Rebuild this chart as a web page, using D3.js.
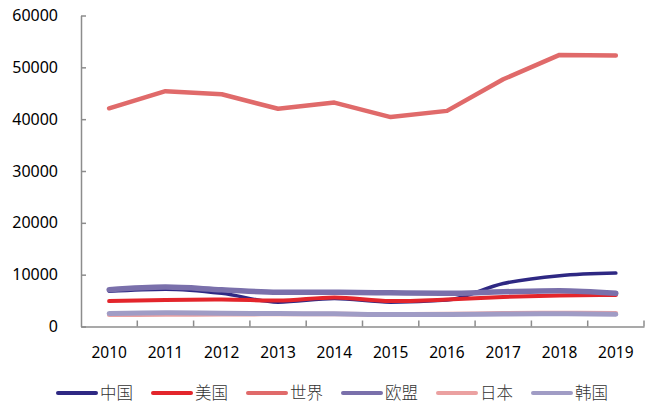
<!DOCTYPE html>
<html>
<head>
<meta charset="utf-8">
<script src="https://cdn.jsdelivr.net/npm/d3@7"></script>
<style>
  body { margin: 0; background: #fff; }
  svg { display: block; }
</style>
</head>
<body>
<div id="chart"></div>
<script>
// values
const years = ['2010', '2011', '2012', '2013', '2014', '2015', '2016', '2017', '2018', '2019'];
const china = [6800, 7200, 6400, 4700, 5400, 4700, 5100, 8300, 9800, 10300];
const usa = [4900, 5100, 5200, 5000, 5600, 4900, 5200, 5700, 6000, 6100];
const world = [42100, 45400, 44800, 42000, 43200, 40400, 41600, 47700, 52400, 52300];
const eu = [7100, 7600, 7100, 6600, 6600, 6500, 6400, 6700, 6900, 6400];
const japan = [2250, 2300, 2350, 2400, 2400, 2350, 2400, 2550, 2600, 2550];
const korea = [2500, 2650, 2550, 2500, 2450, 2300, 2300, 2400, 2450, 2350];
const yTicks = [0, 10000, 20000, 30000, 40000, 50000, 60000];

const series = [
  { name: '中国', values: china, color: '#2e2883', width: 3.5, smooth: true },
  { name: '美国', values: usa, color: '#e3252b', width: 4, smooth: true },
  { name: '世界', values: world, color: '#e06a6a', width: 4.5, smooth: false },
  { name: '欧盟', values: eu, color: '#7a70ab', width: 5.5, smooth: true },
  { name: '日本', values: japan, color: '#eba1a1', width: 4.5, smooth: true },
  { name: '韩国', values: korea, color: '#a09cc5', width: 5, smooth: true },
];

const W = 651, H = 403;
const plotLeft = 81, plotRight = 644, plotTop = 15.5, plotBottom = 326.5;

const svg = d3.select('#chart').append('svg')
  .attr('width', W)
  .attr('height', H);

const x = d3.scaleBand().domain(years).range([plotLeft, plotRight]).padding(0);
const y = d3.scaleLinear().domain([0, 60000]).range([plotBottom, plotTop]);

// y axis
const yAxis = svg.append('g')
  .attr('transform', `translate(${plotLeft},0)`)
  .call(d3.axisLeft(y).tickValues(yTicks).tickFormat(d3.format('d'))
    .tickSizeInner(-5).tickSizeOuter(0).tickPadding(23));
yAxis.select('.domain').attr('stroke', '#8c8c8c').attr('stroke-width', 1.5);
yAxis.selectAll('.tick line').attr('stroke', '#8c8c8c').attr('stroke-width', 1.5);
yAxis.selectAll('text')
  .attr('font-family', '"Noto Sans", sans-serif')
  .attr('font-size', 16)
  .attr('fill', '#000');

// x axis, labels centred in each band
const xAxis = svg.append('g')
  .attr('transform', `translate(0,${plotBottom})`)
  .call(d3.axisBottom(x).tickSize(0).tickPadding(20));
xAxis.select('.domain').attr('stroke', '#8c8c8c').attr('stroke-width', 1.5);
xAxis.selectAll('text')
  .attr('font-family', '"Noto Sans", sans-serif')
  .attr('font-size', 15.5)
  .attr('fill', '#000');

// tick marks on band boundaries, pointing inward
svg.append('g')
  .selectAll('line')
  .data(years)
  .join('line')
  .attr('x1', d => x(d) + x.bandwidth())
  .attr('x2', d => x(d) + x.bandwidth())
  .attr('y1', plotBottom)
  .attr('y2', plotBottom - 6)
  .attr('stroke', '#8c8c8c')
  .attr('stroke-width', 1.5);

const smoothLine = d3.line()
  .x((d, i) => x(years[i]) + x.bandwidth() / 2)
  .y(d => y(d))
  .curve(d3.curveMonotoneX);
const straightLine = d3.line()
  .x((d, i) => x(years[i]) + x.bandwidth() / 2)
  .y(d => y(d));

svg.append('g')
  .selectAll('path')
  .data(series)
  .join('path')
  .attr('d', d => (d.smooth ? smoothLine : straightLine)(d.values))
  .attr('fill', 'none')
  .attr('stroke', d => d.color)
  .attr('stroke-width', d => d.width)
  .attr('stroke-linecap', 'round')
  .attr('stroke-linejoin', 'round');

// legend
const legend = svg.append('g')
  .selectAll('g')
  .data(series)
  .join('g')
  .attr('transform', (d, i) => `translate(${58 + i * 95},393)`);

legend.append('line')
  .attr('x1', 0)
  .attr('x2', 38)
  .attr('stroke', d => d.color)
  .attr('stroke-width', 4)
  .attr('stroke-linecap', 'round');

legend.append('text')
  .attr('x', 42)
  .attr('dy', '0.35em')
  .attr('font-family', '"Noto Sans CJK SC", sans-serif')
  .attr('font-weight', 300)
  .attr('font-size', 16.5)
  .attr('fill', '#333')
  .text(d => d.name);
</script>
</body>
</html>
